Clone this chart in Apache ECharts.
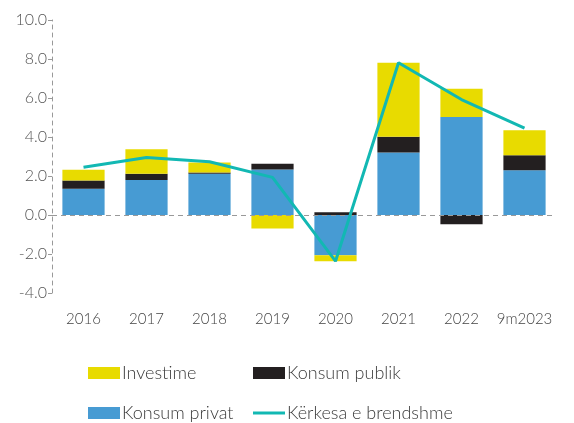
<!DOCTYPE html>
<html><head><meta charset="utf-8">
<script src="https://cdn.jsdelivr.net/npm/echarts@6/dist/echarts.min.js"></script>
<style>html,body{margin:0;padding:0;background:#fff}#c{width:574px;height:423px}</style>
</head><body><div id="c"></div>
<script>
var categories = ['2016','2017','2018','2019','2020','2021','2022','9m2023'];
var konsumPrivat = [1.35, 1.80, 2.11, 2.33, -2.07, 3.20, 5.03, 2.30];
var konsumPublik = [0.42, 0.31, 0.07, 0.30, 0.14, 0.81, -0.48, 0.76];
var investime = [0.55, 1.26, 0.51, -0.69, -0.30, 3.80, 1.45, 1.29];
var kerkesa = [2.45, 2.95, 2.73, 1.93, -2.37, 7.81, 5.92, 4.46];
var yTicks = [-4, -2, 0, 2, 4, 6, 8, 10];

var font = 'Lato';
var chart = echarts.init(document.getElementById('c'));
function leg(name, left, top, h) {
  return {data: [{name: name, icon: 'rect'}], left: left, top: top, itemWidth: 32, itemHeight: h,
    textStyle: {fontFamily: font, fontSize: 18, fontWeight: 300, color: '#3a3a3a', padding: [0,0,0,-3]}, itemGap: 0};
}
chart.setOption({
  animation: false,
  textStyle: {fontFamily: font},
  grid: {left: 52, right: 18, top: 20, bottom: 130, containLabel: false},
  legend: [
    leg('Investime', 83, 359, 12),
    leg('Konsum publik', 248, 359, 12),
    leg('Konsum privat', 83, 399, 12),
    leg('Kërkesa e brendshme', 248, 399, 3)
  ],
  xAxis: {
    type: 'category', data: categories,
    axisLine: {show: false}, axisTick: {show: false},
    axisLabel: {fontFamily: font, fontSize: 15, fontWeight: 300, color: '#444', margin: 19, interval: 0}
  },
  yAxis: {
    type: 'value', min: -4, max: 10, interval: 2,
    axisLine: {show: true, lineStyle: {color: '#999', type: [4, 4], width: 1}},
    axisTick: {show: true, length: 4, lineStyle: {color: '#999'}},
    splitLine: {show: false},
    axisLabel: {fontFamily: font, fontSize: 16, fontWeight: 300, color: '#555', margin: 5,
      formatter: function (v) { return yTicks.indexOf(v) >= 0 ? v.toFixed(1) : ''; }}
  },
  series: [
    {name: 'Konsum privat', type: 'bar', stack: 'a', data: konsumPrivat, barWidth: '67%',
      itemStyle: {color: '#479BD3'},
      markLine: {silent: true, symbol: 'none', label: {show: false},
        lineStyle: {color: '#999', type: [5, 4], width: 1}, data: [{yAxis: 0}]}},
    {name: 'Konsum publik', type: 'bar', stack: 'a', data: konsumPublik, itemStyle: {color: '#231F20'}},
    {name: 'Investime', type: 'bar', stack: 'a', data: investime, itemStyle: {color: '#E8DB00'}},
    {name: 'Kërkesa e brendshme', type: 'line', data: kerkesa, symbol: 'none', showSymbol: false,
      lineStyle: {color: '#12B8B3', width: 3}, itemStyle: {color: '#12B8B3'}, z: 5}
  ]
});
</script></body></html>
